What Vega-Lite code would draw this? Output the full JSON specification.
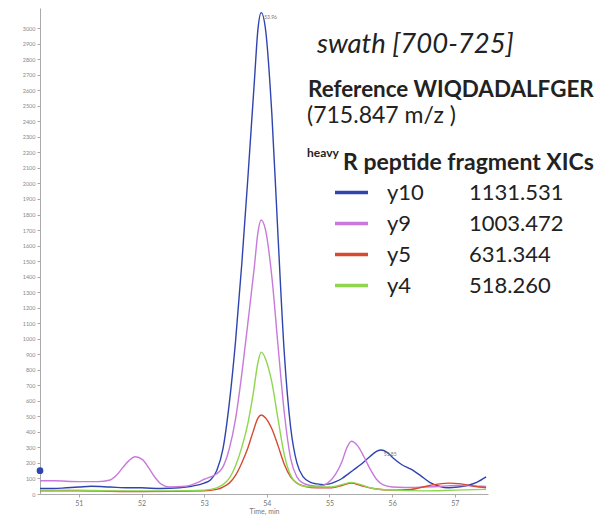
{
  "$schema": "https://vega.github.io/schema/vega-lite/v6.json",
  "width": 448,
  "height": 486,
  "autosize": "none",
  "padding": {"left": 40, "top": 8, "right": 120, "bottom": 24},
  "background": "white",
  "config": {"view": {"stroke": null}, "font": "Lato", "axis": {"labelOverlap": false}, "axisQuantitative": {"labelOverlap": false}},
  "datasets": {
    "xic": [
      {"s":"y10","t":50.38,"v":35},{"s":"y10","t":50.6,"v":35},{"s":"y10","t":50.8,"v":40},{"s":"y10","t":51.0,"v":45},{"s":"y10","t":51.2,"v":50},{"s":"y10","t":51.5,"v":45},{"s":"y10","t":51.8,"v":40},{"s":"y10","t":52.0,"v":40},{"s":"y10","t":52.3,"v":35},{"s":"y10","t":52.6,"v":40},{"s":"y10","t":52.8,"v":50},{"s":"y10","t":53.0,"v":70},{"s":"y10","t":53.1,"v":90},{"s":"y10","t":53.2,"v":150},{"s":"y10","t":53.3,"v":290},{"s":"y10","t":53.4,"v":580},{"s":"y10","t":53.5,"v":980},{"s":"y10","t":53.6,"v":1480},{"s":"y10","t":53.7,"v":2050},{"s":"y10","t":53.8,"v":2650},{"s":"y10","t":53.86,"v":3000},{"s":"y10","t":53.91,"v":3100},{"s":"y10","t":53.98,"v":2990},{"s":"y10","t":54.08,"v":2450},{"s":"y10","t":54.18,"v":1650},{"s":"y10","t":54.28,"v":900},{"s":"y10","t":54.38,"v":430},{"s":"y10","t":54.48,"v":200},{"s":"y10","t":54.58,"v":110},{"s":"y10","t":54.7,"v":75},{"s":"y10","t":54.8,"v":65},{"s":"y10","t":54.9,"v":60},{"s":"y10","t":55.0,"v":65},{"s":"y10","t":55.1,"v":80},{"s":"y10","t":55.2,"v":100},{"s":"y10","t":55.3,"v":130},{"s":"y10","t":55.4,"v":160},{"s":"y10","t":55.5,"v":190},{"s":"y10","t":55.6,"v":225},{"s":"y10","t":55.7,"v":260},{"s":"y10","t":55.78,"v":280},{"s":"y10","t":55.82,"v":283},{"s":"y10","t":55.92,"v":268},{"s":"y10","t":56.02,"v":230},{"s":"y10","t":56.15,"v":190},{"s":"y10","t":56.3,"v":160},{"s":"y10","t":56.45,"v":120},{"s":"y10","t":56.6,"v":75},{"s":"y10","t":56.75,"v":50},{"s":"y10","t":56.9,"v":40},{"s":"y10","t":57.05,"v":45},{"s":"y10","t":57.2,"v":55},{"s":"y10","t":57.35,"v":75},{"s":"y10","t":57.5,"v":110},
      {"s":"y9","t":50.38,"v":85},{"s":"y9","t":50.6,"v":85},{"s":"y9","t":51.0,"v":80},{"s":"y9","t":51.3,"v":80},{"s":"y9","t":51.5,"v":90},{"s":"y9","t":51.6,"v":120},{"s":"y9","t":51.7,"v":170},{"s":"y9","t":51.8,"v":215},{"s":"y9","t":51.9,"v":240},{"s":"y9","t":52.02,"v":220},{"s":"y9","t":52.12,"v":165},{"s":"y9","t":52.22,"v":105},{"s":"y9","t":52.32,"v":62},{"s":"y9","t":52.45,"v":45},{"s":"y9","t":52.7,"v":50},{"s":"y9","t":52.9,"v":75},{"s":"y9","t":53.0,"v":95},{"s":"y9","t":53.1,"v":110},{"s":"y9","t":53.2,"v":130},{"s":"y9","t":53.3,"v":175},{"s":"y9","t":53.4,"v":290},{"s":"y9","t":53.5,"v":480},{"s":"y9","t":53.6,"v":770},{"s":"y9","t":53.7,"v":1110},{"s":"y9","t":53.8,"v":1460},{"s":"y9","t":53.86,"v":1690},{"s":"y9","t":53.91,"v":1765},{"s":"y9","t":53.98,"v":1700},{"s":"y9","t":54.08,"v":1400},{"s":"y9","t":54.18,"v":950},{"s":"y9","t":54.28,"v":520},{"s":"y9","t":54.38,"v":230},{"s":"y9","t":54.48,"v":110},{"s":"y9","t":54.58,"v":70},{"s":"y9","t":54.7,"v":55},{"s":"y9","t":54.8,"v":50},{"s":"y9","t":54.9,"v":55},{"s":"y9","t":55.0,"v":80},{"s":"y9","t":55.1,"v":130},{"s":"y9","t":55.2,"v":210},{"s":"y9","t":55.28,"v":300},{"s":"y9","t":55.35,"v":340},{"s":"y9","t":55.45,"v":310},{"s":"y9","t":55.55,"v":240},{"s":"y9","t":55.65,"v":160},{"s":"y9","t":55.75,"v":95},{"s":"y9","t":55.85,"v":60},{"s":"y9","t":56.0,"v":45},{"s":"y9","t":56.2,"v":42},{"s":"y9","t":56.5,"v":45},{"s":"y9","t":56.8,"v":50},{"s":"y9","t":57.0,"v":55},{"s":"y9","t":57.2,"v":55},{"s":"y9","t":57.4,"v":50},{"s":"y9","t":57.5,"v":48},
      {"s":"y5","t":50.38,"v":20},{"s":"y5","t":51.0,"v":20},{"s":"y5","t":52.0,"v":15},{"s":"y5","t":53.0,"v":20},{"s":"y5","t":53.2,"v":30},{"s":"y5","t":53.3,"v":45},{"s":"y5","t":53.4,"v":70},{"s":"y5","t":53.5,"v":120},{"s":"y5","t":53.6,"v":200},{"s":"y5","t":53.7,"v":300},{"s":"y5","t":53.78,"v":400},{"s":"y5","t":53.86,"v":490},{"s":"y5","t":53.91,"v":509},{"s":"y5","t":53.98,"v":490},{"s":"y5","t":54.08,"v":420},{"s":"y5","t":54.18,"v":310},{"s":"y5","t":54.28,"v":190},{"s":"y5","t":54.38,"v":110},{"s":"y5","t":54.48,"v":70},{"s":"y5","t":54.6,"v":50},{"s":"y5","t":54.8,"v":40},{"s":"y5","t":55.0,"v":40},{"s":"y5","t":55.2,"v":55},{"s":"y5","t":55.35,"v":70},{"s":"y5","t":55.5,"v":55},{"s":"y5","t":55.7,"v":35},{"s":"y5","t":56.0,"v":25},{"s":"y5","t":56.3,"v":30},{"s":"y5","t":56.6,"v":55},{"s":"y5","t":56.9,"v":70},{"s":"y5","t":57.1,"v":65},{"s":"y5","t":57.3,"v":50},{"s":"y5","t":57.5,"v":40},
      {"s":"y4","t":50.38,"v":25},{"s":"y4","t":51.0,"v":25},{"s":"y4","t":51.5,"v":20},{"s":"y4","t":52.0,"v":20},{"s":"y4","t":52.5,"v":20},{"s":"y4","t":53.0,"v":25},{"s":"y4","t":53.2,"v":40},{"s":"y4","t":53.3,"v":60},{"s":"y4","t":53.4,"v":100},{"s":"y4","t":53.5,"v":180},{"s":"y4","t":53.6,"v":300},{"s":"y4","t":53.7,"v":460},{"s":"y4","t":53.78,"v":640},{"s":"y4","t":53.86,"v":850},{"s":"y4","t":53.91,"v":914},{"s":"y4","t":53.98,"v":870},{"s":"y4","t":54.08,"v":720},{"s":"y4","t":54.18,"v":480},{"s":"y4","t":54.28,"v":250},{"s":"y4","t":54.38,"v":120},{"s":"y4","t":54.48,"v":70},{"s":"y4","t":54.6,"v":50},{"s":"y4","t":54.8,"v":45},{"s":"y4","t":55.0,"v":45},{"s":"y4","t":55.2,"v":60},{"s":"y4","t":55.35,"v":75},{"s":"y4","t":55.5,"v":60},{"s":"y4","t":55.7,"v":35},{"s":"y4","t":56.0,"v":25},{"s":"y4","t":56.5,"v":20},{"s":"y4","t":57.0,"v":25},{"s":"y4","t":57.5,"v":30}
    ],
    "peaks": [
      {"t": 53.91, "v": 3100, "label": "53.96"},
      {"t": 55.82, "v": 283, "label": "55.85"}
    ],
    "marker": [{"t": 50.38, "v": 150}]
  },
  "encoding": {
    "y": {"type": "quantitative",
      "scale": {"domain": [0, 3130], "nice": false},
      "axis": {"title": null, "grid": false, "format": "d", "labelOverlap": false,
        "values": [0,100,200,300,400,500,600,700,800,900,1000,1100,1200,1300,1400,1500,1600,1700,1800,1900,2000,2100,2200,2300,2400,2500,2600,2700,2800,2900,3000],
        "labelFontSize": 5.5, "labelColor": "#888", "labelPadding": 2, "tickSize": 3,
        "tickColor": "#aaa", "domainColor": "#aaa"}},
    "x": {"type": "quantitative",
      "scale": {"domain": [50.38, 57.53], "nice": false, "zero": false},
      "axis": {"title": "Time, min", "values": [51, 52, 53, 54, 55, 56, 57], "format": "d", "grid": false,
        "labelFontSize": 7, "labelColor": "#777", "labelPadding": 2, "tickSize": 3,
        "tickColor": "#aaa", "domainColor": "#aaa", "titleFontSize": 7, "titleColor": "#777",
        "titleFontWeight": "normal", "titlePadding": 1}}
  },
  "layer": [
    {
      "data": {"name": "xic"},
      "mark": {"type": "line", "interpolate": "monotone", "strokeWidth": 1.4},
      "encoding": {
        "x": {"field": "t"},
        "y": {"field": "v"},
        "color": {"field": "s", "type": "nominal",
          "scale": {"domain": ["y10", "y9", "y5", "y4"], "range": ["#2f44ae", "#c87ada", "#d64a30", "#8fd64e"]},
          "legend": {"orient": "none", "legendX": 293, "legendY": 166, "title": null,
            "symbolType": "stroke", "symbolSize": 1089, "symbolStrokeWidth": 3.5,
            "labelFont": "Lato", "labelFontSize": 22, "labelColor": "#222", "labelOffset": 17,
            "labelLimit": 0, "rowPadding": 1, "padding": 0,
            "labelExpr": "datum.label == 'y10' ? 'y10\u00a0\u00a0\u00a0\u00a0\u00a0\u00a0\u00a0\u00a01131.531' : datum.label == 'y9' ? 'y9\u2007\u00a0\u00a0\u00a0\u00a0\u00a0\u00a0\u00a0\u00a01003.472' : datum.label == 'y5' ? 'y5\u2007\u00a0\u00a0\u00a0\u00a0\u00a0\u00a0\u00a0\u00a0631.344' : 'y4\u2007\u00a0\u00a0\u00a0\u00a0\u00a0\u00a0\u00a0\u00a0518.260'"}}
      }
    },
    {
      "data": {"name": "marker"},
      "mark": {"type": "point", "filled": true, "color": "#2f44ae", "size": 45, "opacity": 1},
      "encoding": {"x": {"field": "t"}, "y": {"field": "v"}}
    },
    {
      "data": {"name": "peaks"},
      "mark": {"type": "text", "fontSize": 5, "color": "#777", "align": "left", "dx": 3, "dy": 2, "baseline": "top"},
      "encoding": {"x": {"field": "t"}, "y": {"field": "v"}, "text": {"field": "label"}}
    },
    {
      "data": {"values": [{"label": "swath [700-725]", "t": 54.8, "v": 2840}]},
      "mark": {"type": "text", "font": "Lato", "fontStyle": "italic", "fontSize": 27.5, "color": "#222", "align": "left", "baseline": "alphabetic"},
      "encoding": {"x": {"field": "t"}, "y": {"field": "v"}, "text": {"field": "label"}}
    },
    {
      "data": {"values": [{"label": "Reference WIQDADALFGER", "t": 54.657, "v": 2557}]},
      "mark": {"type": "text", "font": "Lato", "fontWeight": "bold", "fontSize": 22.4, "color": "#222", "align": "left", "baseline": "alphabetic"},
      "encoding": {"x": {"field": "t"}, "y": {"field": "v"}, "text": {"field": "label"}}
    },
    {
      "data": {"values": [{"label": "(715.847 m/z )", "t": 54.642, "v": 2389}]},
      "mark": {"type": "text", "font": "Lato", "fontSize": 23, "color": "#222", "align": "left", "baseline": "alphabetic"},
      "encoding": {"x": {"field": "t"}, "y": {"field": "v"}, "text": {"field": "label"}}
    },
    {
      "data": {"values": [{"label": "heavy", "t": 54.642, "v": 2170}]},
      "mark": {"type": "text", "font": "Lato", "fontWeight": "bold", "fontSize": 12, "color": "#222", "align": "left", "baseline": "alphabetic"},
      "encoding": {"x": {"field": "t"}, "y": {"field": "v"}, "text": {"field": "label"}}
    },
    {
      "data": {"values": [{"label": "R peptide fragment XICs", "t": 55.216, "v": 2087}]},
      "mark": {"type": "text", "font": "Lato", "fontWeight": "bold", "fontSize": 23, "color": "#222", "align": "left", "baseline": "alphabetic"},
      "encoding": {"x": {"field": "t"}, "y": {"field": "v"}, "text": {"field": "label"}}
    }
  ]
}
